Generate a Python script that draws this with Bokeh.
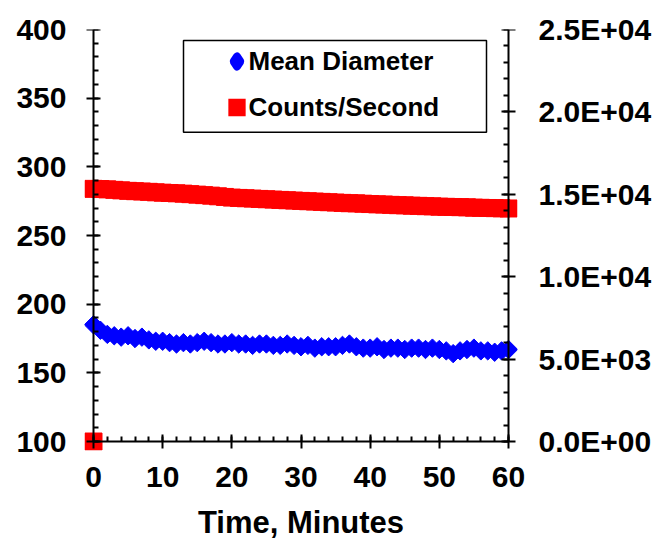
from bokeh.plotting import figure
from bokeh.models import (Range1d, LinearAxis, FixedTicker, CustomJSTickFormatter,
                          Legend, LegendItem, BoxAnnotation, ColumnDataSource)
from bokeh.embed import file_html
from bokeh.resources import INLINE
import math

# ---- data ----
time_min = list(range(0, 61))
mean_diameter = [185, 181, 178, 177, 176, 177, 175, 176, 174, 173,
                 173, 172, 171, 172, 171, 172, 173, 172, 171, 171,
                 172, 171, 171, 170, 171, 171, 170, 170, 171, 170,
                 169, 170, 168, 169, 169, 169, 170, 171, 169, 168,
                 168, 169, 167, 168, 168, 167, 168, 168, 167, 168,
                 167, 166, 164, 166, 167, 168, 166, 166, 165, 166,
                 167]
counts_per_sec = [15330, 15320, 15300, 15270, 15240, 15210, 15190, 15170, 15150, 15120,
                  15100, 15080, 15060, 15040, 15010, 14980, 14950, 14920, 14880, 14840,
                  14800, 14780, 14760, 14740, 14720, 14700, 14680, 14660, 14640, 14620,
                  14600, 14580, 14560, 14540, 14520, 14500, 14480, 14460, 14450, 14430,
                  14410, 14390, 14380, 14360, 14340, 14330, 14310, 14300, 14280, 14270,
                  14250, 14240, 14230, 14220, 14210, 14190, 14180, 14170, 14160, 14150,
                  14140]
counts_start_time = [0]
counts_start_value = [0]

x_ticks = [0, 10, 20, 30, 40, 50, 60]
x_minor = list(range(0, 61, 2))
y_left_ticks = [100, 150, 200, 250, 300, 350, 400]
y_left_minor = list(range(100, 401, 10))
y_right_ticks = [0, 5000, 10000, 15000, 20000, 25000]
y_right_minor = list(range(0, 25001, 1000))
x_label = "Time, Minutes"
series_names = ["Mean Diameter", "Counts/Second"]

FONT = "Liberation Sans"
BLUE, RED = "#0000FF", "#FF0000"

# ---- layout (pixels) ----
W, H = 660, 542
AX_LEFT, AX_RIGHT, AX_TOP, AX_BOTTOM = 93, 508, 29, 442   # where the axis lines sit
PAD = 9                                                   # room so edge markers are not clipped
X0, X1 = 0, 60
YL0, YL1 = 100, 400
YR0, YR1 = 0, 25000

px_x = (AX_RIGHT - AX_LEFT) / (X1 - X0)
px_yl = (AX_BOTTOM - AX_TOP) / (YL1 - YL0)
px_yr = (AX_BOTTOM - AX_TOP) / (YR1 - YR0)
frame_left, frame_right, frame_bottom = AX_LEFT - PAD, AX_RIGHT + PAD, AX_BOTTOM + PAD

p = figure(width=W, height=H, output_backend="svg", toolbar_location=None,
           x_range=Range1d(X0 - PAD / px_x, X1 + PAD / px_x),
           y_range=Range1d(YL0 - PAD / px_yl, YL1),
           min_border_left=frame_left, min_border_right=W - frame_right,
           min_border_top=AX_TOP, min_border_bottom=H - frame_bottom)
p.outline_line_color = None
p.xgrid.visible = False
p.ygrid.visible = False
p.background_fill_color = "white"
p.border_fill_color = "white"
p.extra_y_ranges = {"counts": Range1d(YR0 - PAD / px_yr, YR1)}

# --- label-only axes at the frame edges ---
def label_axis(ax, ticks, standoff):
    ax.ticker = FixedTicker(ticks=ticks)
    ax.axis_line_color = None
    ax.major_tick_line_color = None
    ax.minor_tick_line_color = None
    ax.major_tick_in = ax.major_tick_out = 0
    ax.minor_tick_in = ax.minor_tick_out = 0
    ax.major_label_standoff = standoff
    ax.major_label_text_font = FONT
    ax.major_label_text_font_style = "bold"
    ax.major_label_text_font_size = "30px"
    ax.major_label_text_color = "black"

x_lab = p.xaxis[0]
yl_lab = p.yaxis[0]
yr_lab = LinearAxis(y_range_name="counts")
p.add_layout(yr_lab, "right")
label_axis(x_lab, x_ticks, 16)
label_axis(yl_lab, y_left_ticks, frame_left - 66)
label_axis(yr_lab, y_right_ticks, 538 - frame_right)
yr_lab.formatter = CustomJSTickFormatter(
    code="return tick.toExponential(1).toUpperCase().replace('E+', 'E+0').replace('E-', 'E-0');")
x_lab.axis_label = x_label
x_lab.axis_label_text_font = FONT
x_lab.axis_label_text_font_style = "bold"
x_lab.axis_label_text_font_size = "31px"
x_lab.axis_label_standoff = 15
x_lab.axis_label_text_color = "black"

# --- line+tick axes drawn at the data edges (placed in the opposite panel so ticks cross) ---
def line_axis(ax, ticks, minor, loc, bounds):
    ax.ticker = FixedTicker(ticks=ticks, minor_ticks=minor)
    ax.fixed_location = loc
    ax.bounds = bounds
    ax.formatter = CustomJSTickFormatter(code="return '';")
    ax.major_label_standoff = 0
    ax.major_label_text_font_size = "1px"
    ax.axis_line_width = 2
    ax.axis_line_color = "black"
    ax.major_tick_line_width = 2
    ax.major_tick_line_color = "black"
    ax.minor_tick_line_width = 2
    ax.minor_tick_line_color = "black"
    ax.major_tick_in = 7
    ax.major_tick_out = 7
    ax.minor_tick_in = 0
    ax.minor_tick_out = 5      # "out" of the opposite panel points into the plot

x_line = LinearAxis()
line_axis(x_line, x_ticks, x_minor, YL0, (X0, X1))
p.add_layout(x_line, "above")
yl_line = LinearAxis()
line_axis(yl_line, y_left_ticks, y_left_minor, X0, (YL0, YL1))
p.add_layout(yl_line, "right")
yr_line = LinearAxis(y_range_name="counts")
line_axis(yr_line, y_right_ticks, y_right_minor, X1, (YR0, YR1))
p.add_layout(yr_line, "left")

# --- data ---
src_d = ColumnDataSource(dict(t=time_min, d=mean_diameter))
src_c = ColumnDataSource(dict(t=time_min, c=counts_per_sec))
src_c0 = ColumnDataSource(dict(t=counts_start_time, c=counts_start_value))

p.scatter("t", "d", source=src_d, marker="square", angle=math.pi / 4, size=13,
          fill_color=BLUE, line_color=BLUE)
p.scatter("t", "c", source=src_c, marker="square", size=17, y_range_name="counts",
          fill_color=RED, line_color=RED)
p.scatter("t", "c", source=src_c0, marker="square", size=17, y_range_name="counts",
          fill_color=RED, line_color=RED)

# --- legend key glyphs (a single undrawable NaN point each, shown only in the legend) ---
NAN = float("nan")
key_d = p.scatter(x=[NAN], y=[NAN], marker="diamond", fill_color=BLUE, line_color=BLUE,
                  line_width=8, line_join="round")
key_c = p.scatter(x=[NAN], y=[NAN], marker="square", fill_color=RED, line_color=RED,
                  line_width=7.3, line_join="miter")
GW, ROW, GAP = 25, 32, 14
legend = Legend(items=[LegendItem(label=series_names[0], renderers=[key_d]),
                       LegendItem(label=series_names[1], renderers=[key_c])],
                location=(236 - GW / 2 - frame_left, frame_bottom - (108 + ROW / 2)),
                padding=0, margin=0, spacing=GAP,
                glyph_width=GW, glyph_height=ROW, label_height=ROW, label_standoff=0,
                border_line_color=None, background_fill_alpha=0)
legend.label_text_font = FONT
legend.label_text_font_style = "bold"
legend.label_text_font_size = "26px"
legend.label_text_color = "black"
p.add_layout(legend, "center")

p.add_layout(BoxAnnotation(left=(183 - AX_LEFT) / px_x, right=(486 - AX_LEFT) / px_x,
                           top=YL1 - (40 - AX_TOP) / px_yl, bottom=YL1 - (132 - AX_TOP) / px_yl,
                           fill_alpha=0, line_color="black", line_width=1.5, line_alpha=1))

open("out.html", "w").write(file_html(p, INLINE))
